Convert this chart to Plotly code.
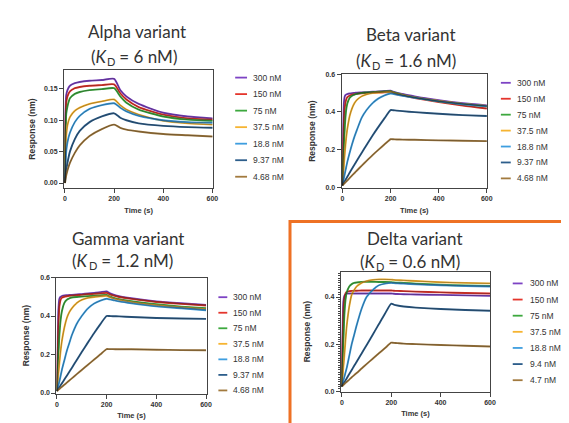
import plotly.graph_objects as go

# ---------------- data ----------------
conc_labels = ["300 nM", "150 nM", "75 nM", "37.5 nM", "18.8 nM", "9.37 nM", "4.68 nM"]
conc_labels_delta = ["300 nM", "150 nM", "75 nM", "37.5 nM", "18.8 nM", "9.4 nM", "4.7 nM"]
colors = ["#7D43C4", "#E4352C", "#3DA83E", "#F6B431", "#3E9EDF", "#2D5E8B", "#A27A3E"]

alpha_t = [0, 2, 5, 10, 20, 40, 60, 100, 150, 200, 225, 250, 300, 400, 500, 600]
alpha_300 = [0, 0.11, 0.14, 0.148, 0.155, 0.159, 0.161, 0.163, 0.164, 0.166, 0.148, 0.138, 0.126, 0.112, 0.106, 0.103]
alpha_150 = [0, 0.09, 0.128, 0.138, 0.146, 0.151, 0.153, 0.155, 0.156, 0.157, 0.143, 0.133, 0.121, 0.109, 0.103, 0.101]
alpha_75 = [0, 0.07, 0.11, 0.122, 0.135, 0.142, 0.145, 0.148, 0.1495, 0.151, 0.138, 0.128, 0.117, 0.106, 0.101, 0.099]
alpha_37 = [0, 0.045, 0.075, 0.092, 0.105, 0.115, 0.12, 0.126, 0.13, 0.133, 0.124, 0.117, 0.109, 0.099, 0.095, 0.093]
alpha_18 = [0, 0.025, 0.05, 0.065, 0.08, 0.097, 0.107, 0.118, 0.124, 0.127, 0.12, 0.114, 0.107, 0.1, 0.097, 0.096]
alpha_9 = [0, 0.01, 0.02, 0.032, 0.05, 0.07, 0.083, 0.097, 0.106, 0.111, 0.104, 0.1, 0.095, 0.091, 0.089, 0.088]
alpha_4 = [0, 0.006, 0.012, 0.02, 0.032, 0.048, 0.06, 0.075, 0.086, 0.093, 0.088, 0.085, 0.082, 0.078, 0.076, 0.074]

kin_t = [0, 3, 6, 10, 15, 20, 30, 40, 50, 60, 80, 100, 125, 150, 175, 200, 210, 225, 250, 300, 400, 500, 600]

beta_300 = [0.01, 0.3, 0.45, 0.485, 0.492, 0.495, 0.498, 0.5, 0.501, 0.502, 0.504, 0.505, 0.507, 0.509, 0.511, 0.513, 0.508, 0.502, 0.495, 0.482, 0.462, 0.446, 0.435]
beta_150 = [0.01, 0.2, 0.35, 0.43, 0.465, 0.478, 0.487, 0.491, 0.494, 0.496, 0.499, 0.5, 0.502, 0.503, 0.504, 0.505, 0.5, 0.494, 0.487, 0.474, 0.453, 0.434, 0.418]
beta_75 = [0.01, 0.12, 0.22, 0.33, 0.41, 0.445, 0.475, 0.486, 0.492, 0.496, 0.501, 0.503, 0.505, 0.507, 0.509, 0.51, 0.505, 0.499, 0.49, 0.477, 0.457, 0.442, 0.43]
beta_37 = [0.01, 0.06, 0.12, 0.19, 0.26, 0.31, 0.38, 0.42, 0.447, 0.464, 0.483, 0.493, 0.5, 0.503, 0.505, 0.507, 0.503, 0.497, 0.49, 0.477, 0.458, 0.443, 0.432]
beta_18 = [0.01, 0.03, 0.05, 0.075, 0.105, 0.135, 0.185, 0.23, 0.27, 0.305, 0.37, 0.41, 0.447, 0.472, 0.488, 0.498, 0.496, 0.492, 0.486, 0.475, 0.456, 0.441, 0.43]
beta_9 = [0.01, 0.017, 0.024, 0.033, 0.045, 0.056, 0.078, 0.1, 0.121, 0.142, 0.183, 0.225, 0.275, 0.322, 0.367, 0.41, 0.409, 0.407, 0.404, 0.399, 0.39, 0.383, 0.378]
beta_4 = [0.01, 0.014, 0.018, 0.023, 0.03, 0.036, 0.05, 0.063, 0.076, 0.089, 0.115, 0.14, 0.171, 0.2, 0.228, 0.255, 0.255, 0.254, 0.253, 0.252, 0.249, 0.247, 0.245]

gamma_300 = [0.01, 0.25, 0.43, 0.49, 0.5, 0.504, 0.507, 0.508, 0.509, 0.51, 0.512, 0.514, 0.517, 0.52, 0.524, 0.528, 0.52, 0.512, 0.503, 0.492, 0.476, 0.466, 0.458]
gamma_150 = [0.01, 0.18, 0.34, 0.45, 0.485, 0.495, 0.5, 0.503, 0.505, 0.506, 0.508, 0.51, 0.513, 0.515, 0.517, 0.52, 0.514, 0.507, 0.499, 0.489, 0.473, 0.463, 0.455]
gamma_75 = [0.01, 0.1, 0.19, 0.3, 0.38, 0.425, 0.468, 0.485, 0.492, 0.496, 0.499, 0.501, 0.503, 0.505, 0.507, 0.51, 0.503, 0.496, 0.488, 0.477, 0.461, 0.449, 0.44]
gamma_37 = [0.01, 0.05, 0.1, 0.155, 0.22, 0.27, 0.34, 0.39, 0.42, 0.44, 0.468, 0.484, 0.494, 0.499, 0.502, 0.505, 0.499, 0.492, 0.484, 0.472, 0.456, 0.444, 0.435]
gamma_18 = [0.01, 0.025, 0.04, 0.06, 0.09, 0.12, 0.17, 0.22, 0.26, 0.3, 0.36, 0.4, 0.44, 0.465, 0.48, 0.49, 0.487, 0.483, 0.476, 0.466, 0.45, 0.44, 0.43]
gamma_9 = [0.01, 0.016, 0.022, 0.03, 0.04, 0.05, 0.07, 0.09, 0.11, 0.13, 0.172, 0.213, 0.263, 0.312, 0.358, 0.4, 0.4, 0.399, 0.398, 0.395, 0.39, 0.387, 0.385]
gamma_4 = [0.01, 0.013, 0.017, 0.021, 0.027, 0.032, 0.043, 0.054, 0.065, 0.076, 0.098, 0.12, 0.147, 0.174, 0.201, 0.228, 0.228, 0.228, 0.227, 0.227, 0.225, 0.223, 0.222]

delta_300 = [0.02, 0.25, 0.38, 0.405, 0.412, 0.415, 0.415, 0.415, 0.415, 0.415, 0.415, 0.415, 0.415, 0.415, 0.415, 0.415, 0.414, 0.413, 0.412, 0.411, 0.409, 0.407, 0.405]
delta_150 = [0.02, 0.2, 0.32, 0.39, 0.415, 0.422, 0.425, 0.426, 0.427, 0.427, 0.428, 0.428, 0.428, 0.428, 0.428, 0.428, 0.427, 0.426, 0.425, 0.423, 0.42, 0.417, 0.415]
delta_75 = [0.02, 0.11, 0.2, 0.32, 0.39, 0.42, 0.445, 0.455, 0.46, 0.462, 0.464, 0.465, 0.465, 0.464, 0.464, 0.463, 0.462, 0.461, 0.46, 0.457, 0.452, 0.449, 0.447]
delta_37 = [0.02, 0.06, 0.1, 0.15, 0.22, 0.28, 0.36, 0.41, 0.43, 0.445, 0.46, 0.468, 0.473, 0.475, 0.475, 0.474, 0.473, 0.472, 0.471, 0.468, 0.463, 0.46, 0.458]
delta_18 = [0.02, 0.03, 0.045, 0.06, 0.08, 0.1, 0.15, 0.2, 0.24, 0.28, 0.35, 0.4, 0.43, 0.45, 0.457, 0.46, 0.459, 0.458, 0.457, 0.454, 0.45, 0.447, 0.445]
delta_9 = [0.02, 0.025, 0.03, 0.037, 0.046, 0.055, 0.073, 0.09, 0.108, 0.125, 0.16, 0.195, 0.24, 0.285, 0.33, 0.372, 0.368, 0.364, 0.36, 0.355, 0.349, 0.345, 0.342]
delta_4 = [0.02, 0.023, 0.026, 0.03, 0.035, 0.04, 0.049, 0.059, 0.068, 0.077, 0.096, 0.115, 0.138, 0.161, 0.183, 0.206, 0.205, 0.204, 0.202, 0.2, 0.196, 0.193, 0.19]

x_ticks = [0, 200, 400, 600]
alpha_yticks = [0.00, 0.05, 0.10, 0.15]
alpha_yticklabels = ["0.00", "0.05", "0.10", "0.15"]
big_yticks = [0.0, 0.2, 0.4, 0.6]
big_yticklabels = ["0.0", "0.2", "0.4", "0.6"]

# ---------------- layout helpers ----------------
W, H = 569, 423
def px(x): return x / W
def py(y): return 1 - y / H

panels = [
    dict(name="Alpha variant", kd="6", t=alpha_t,
         ys=[alpha_300, alpha_150, alpha_75, alpha_37, alpha_18, alpha_9, alpha_4],
         labels=conc_labels, box=(55.7, 206.7, 59, 179), xr=[-4, 603], yr=[-0.008, 0.18],
         yt=alpha_yticks, ytl=alpha_yticklabels, minor=False,
         title=(130, 20, 45), ystand=7, xstand=6,
         leg=(229, 241, 245, 66.7, 16.8)),
    dict(name="Beta variant", kd="1.6", t=kin_t,
         ys=[beta_300, beta_150, beta_75, beta_37, beta_18, beta_9, beta_4],
         labels=conc_labels, box=(336.7, 484, 63.3, 179), xr=[-4, 601], yr=[-0.004, 0.6],
         yt=big_yticks, ytl=big_yticklabels, minor=False,
         title=(407, 23, 49), ystand=8, xstand=6,
         leg=(498, 508, 512, 72, 16.2)),
    dict(name="Gamma variant", kd="1.2", t=kin_t,
         ys=[gamma_300, gamma_150, gamma_75, gamma_37, gamma_18, gamma_9, gamma_4],
         labels=conc_labels, box=(48, 200, 270, 388), xr=[-2, 602], yr=[-0.003, 0.6],
         yt=big_yticks, ytl=big_yticklabels, minor=False,
         title=(120, 230, 253), ystand=9, xstand=5,
         leg=(212, 221, 225, 290, 15.8)),
    dict(name="Delta variant", kd="0.6", t=kin_t,
         ys=[delta_300, delta_150, delta_75, delta_37, delta_18, delta_9, delta_4],
         labels=conc_labels_delta, box=(336, 487, 264, 386), xr=[-4, 600], yr=[-0.002, 0.508],
         yt=[0.0, 0.2, 0.4], ytl=["0.0", "0.2", "0.4"], minor=True,
         title=(411, 230, 254), ystand=12, xstand=5,
         leg=(510, 520, 525, 276, 16.4)),
]

fig = go.Figure()
annotations = []
shapes = []
TXT = "#333333"
TFONT = "Lato"
TSIZE = 17

for i, p in enumerate(panels, start=1):
    xa = "x" if i == 1 else f"x{i}"
    ya = "y" if i == 1 else f"y{i}"
    for y, c, lab in zip(p["ys"], colors, p["labels"]):
        fig.add_trace(go.Scatter(x=p["t"], y=y, mode="lines", name=lab, xaxis=xa, yaxis=ya,
                                 line=dict(color=c, width=1.9, shape="spline", smoothing=0.6),
                                 showlegend=False, hoverinfo="skip"))
    for y in p["ys"]:
        fig.add_trace(go.Scatter(x=p["t"], y=y, mode="lines", xaxis=xa, yaxis=ya,
                                 line=dict(color="rgba(20,20,20,0.55)", width=0.6,
                                           shape="spline", smoothing=0.6),
                                 showlegend=False, hoverinfo="skip"))
    x0, x1, yt0, yb0 = p["box"]
    axis_common = dict(showline=True, linecolor="#444", linewidth=1, mirror=True,
                       ticks="outside", ticklen=4, tickwidth=1, tickcolor="#444",
                       showgrid=False, zeroline=False,
                       tickfont=dict(family="Liberation Sans", size=7, color=TXT, weight="bold"))
    xkey = "xaxis" if i == 1 else f"xaxis{i}"
    ykey = "yaxis" if i == 1 else f"yaxis{i}"
    xdict = dict(domain=[px(x0), px(x1)], range=p["xr"], anchor=ya,
                 tickvals=x_ticks, ticktext=[str(v) for v in x_ticks],
                 title=dict(text="<b>Time (s)</b>", standoff=p["xstand"],
                            font=dict(family="Liberation Sans", size=7.5, color=TXT)),
                 **axis_common)
    ydict = dict(domain=[py(yb0), py(yt0)], range=p["yr"], anchor=xa,
                 tickvals=p["yt"], ticktext=p["ytl"],
                 title=dict(text="<b>Response (nm)</b>", standoff=p["ystand"],
                            font=dict(family="Liberation Sans", size=8.5, color=TXT)),
                 **axis_common)
    if p["minor"]:
        ydict["minor"] = dict(dtick=0.01, tick0=0, ticks="outside", ticklen=2,
                              tickwidth=1, tickcolor="#444", showgrid=False)
    fig.update_layout({xkey: xdict, ykey: ydict})

    tx, ty1, ty2 = p["title"]
    annotations.append(dict(x=px(tx), y=py(ty1), xref="paper", yref="paper", text=p["name"],
                            showarrow=False, xanchor="center", yanchor="middle",
                            font=dict(family=TFONT, size=TSIZE, color=TXT)))
    # second title line "(K_D = x nM)" built from three pieces (subscript D drawn smaller & lower)
    rest = f" = {p['kd']} nM)"
    rest_w = 0.55 * TSIZE * len(rest) * 0.93
    kpart_w = 0.85 * TSIZE
    d_w = 0.72 * 11
    total = kpart_w + d_w + rest_w - 7
    a = tx - total / 2 + kpart_w
    a_d = a - 4.5
    annotations.append(dict(x=px(a), y=py(ty2), xref="paper", yref="paper", text="(<i>K</i>",
                            showarrow=False, xanchor="right", yanchor="middle",
                            font=dict(family=TFONT, size=TSIZE, color=TXT)))
    annotations.append(dict(x=px(a_d), y=py(ty2 + 5), xref="paper", yref="paper", text="D",
                            showarrow=False, xanchor="left", yanchor="middle",
                            font=dict(family=TFONT, size=11, color=TXT)))
    annotations.append(dict(x=px(a_d + d_w), y=py(ty2), xref="paper", yref="paper", text=rest,
                            showarrow=False, xanchor="left", yanchor="middle",
                            font=dict(family=TFONT, size=TSIZE, color=TXT)))
    lx0, lx1, ltx, ly0, ldy = p["leg"]
    for k, (c, lab) in enumerate(zip(colors, p["labels"])):
        yy = ly0 + k * ldy
        shapes.append(dict(type="line", xref="paper", yref="paper", x0=px(lx0), x1=px(lx1),
                           y0=py(yy), y1=py(yy), line=dict(color=c, width=1.8)))
        annotations.append(dict(x=px(ltx), y=py(yy), xref="paper", yref="paper", text=lab,
                                showarrow=False, xanchor="left", yanchor="middle",
                                font=dict(family="Liberation Sans", size=8.5, color=TXT)))

# orange highlight frame around Delta panel
shapes.append(dict(type="rect", xref="paper", yref="paper", x0=px(284.5), x1=1.02,
                   y0=-0.02, y1=py(213), line=dict(color="#EE7124", width=3),
                   fillcolor="rgba(0,0,0,0)"))

fig.update_layout(width=W, height=H, margin=dict(l=0, r=0, t=0, b=0),
                  paper_bgcolor="white", plot_bgcolor="white",
                  showlegend=False, annotations=annotations, shapes=shapes)

fig.write_html("out.html")
